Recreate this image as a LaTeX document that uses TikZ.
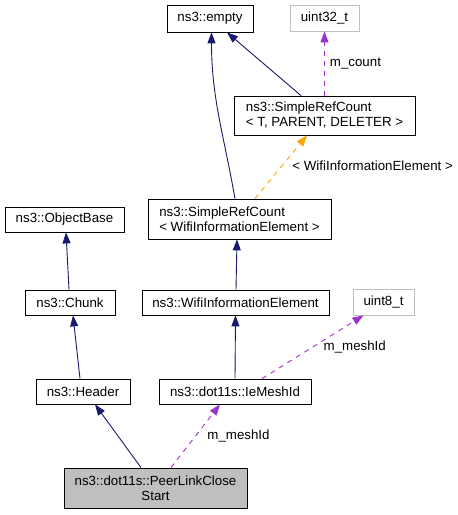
\documentclass[tikz,border=0pt]{standalone}
\usepackage{fontspec}
\setmainfont{Liberation Sans}
\usetikzlibrary{arrows.meta}

\definecolor{inheritblue}{HTML}{191970}
\definecolor{memberpurple}{HTML}{9A32CD}
\definecolor{templorange}{HTML}{FFA500}
\definecolor{boxgray}{HTML}{BFBFBF}
\newcommand{\boxfont}{\fontsize{13.3}{15}\selectfont}

\tikzset{
  classbox/.style={draw=black,line width=0.8pt},
  typebox/.style={draw=boxgray,line width=0.8pt},
  selfbox/.style={draw=black,fill=boxgray,line width=0.8pt},
  inherit/.style={draw=inheritblue},
  member/.style={draw=memberpurple,dash pattern=on 5pt off 5pt},
  templ/.style={draw=templorange,dash pattern=on 5pt off 5pt}
}

\begin{document}
\begin{tikzpicture}[x=1pt,y=-1pt]
		\useasboundingbox (0,0) rectangle (458,515);
		\begin{scope}[every node/.style={inner sep=0pt,font=\boxfont}]
			\node[classbox,minimum width=86,minimum height=27] (empty) at (210,18.5) {ns3::empty};
			\node[typebox,minimum width=69,minimum height=26] (uint32) at (324.5,18) {uint32\_t};
			\node[classbox,minimum width=181,minimum height=39,align=left] (srcT) at (324.5,115.5) {ns3::SimpleRefCount\\< T, PARENT, DELETER >};
			\node[classbox,minimum width=119,minimum height=25] (objbase) at (64.5,219.5) {ns3::ObjectBase};
			\node[classbox,minimum width=183,minimum height=40,align=left] (srcW) at (239.5,219) {ns3::SimpleRefCount\\< WifiInformationElement >};
			\node[classbox,minimum width=90,minimum height=25] (chunk) at (70,302.5) {ns3::Chunk};
			\node[classbox,minimum width=187,minimum height=25] (wie) at (235.5,302.5) {ns3::WifiInformationElement};
			\node[typebox,minimum width=61,minimum height=26] (uint8) at (383.5,302) {uint8\_t};
			\node[classbox,minimum width=94,minimum height=25] (header) at (83,391.5) {ns3::Header};
			\node[classbox,minimum width=152,minimum height=25] (meshid) at (235,391.5) {ns3::dot11s::IeMeshId};
			\node[selfbox,minimum width=183,minimum height=40,align=center] (peer) at (155.5,488) {ns3::dot11s::PeerLinkClose\\Start};
		\end{scope}
		\begin{scope}[>={Triangle[length=11pt,width=8pt]},
			every node/.style={font=\boxfont,inner sep=0pt,anchor=west},
			every edge/.style={draw,line width=0.9pt}]
			\path [->] ([xshift=-14.5]peer.north) edge[inherit] ([xshift=12]header.south);
			\path [->] ([xshift=15.5]peer.north) edge[member] node[pos=0.5,xshift=11.5] {m\_meshId} ([xshift=-15]meshid.south);
			\path [->] ([xshift=-3]header.north) edge[inherit] ([xshift=3]chunk.south);
			\path [->] ([xshift=-1]chunk.north) edge[inherit] ([xshift=1.5]objbase.south);
			\path [->] (meshid.north) edge[inherit] (wie.south);
			\path [->] ([xshift=27]meshid.north) edge[member] node[pos=0.5,xshift=10.5] {m\_meshId} ([xshift=-20]uint8.south);
			\path [->] ([xshift=0.5]wie.north) edge[inherit] ([xshift=-2.5]srcW.south);
			\path [->] ([xshift=-4.5]srcW.north) edge[inherit,out=100,in=-90] ([xshift=1.5]empty.south);
			\path [->] ([xshift=15.5]srcW.north) edge[templ] node[pos=0.52,xshift=10] {< WifiInformationElement >} ([xshift=-17.5]srcT.south);
			\path [->] ([xshift=-23.5]srcT.north) edge[inherit] ([xshift=17]empty.south);
			\path [->] (srcT.north) edge[member] node[pos=0.5,xshift=5] {m\_count} (uint32.south);
		\end{scope}
	\end{tikzpicture}
\end{document}
